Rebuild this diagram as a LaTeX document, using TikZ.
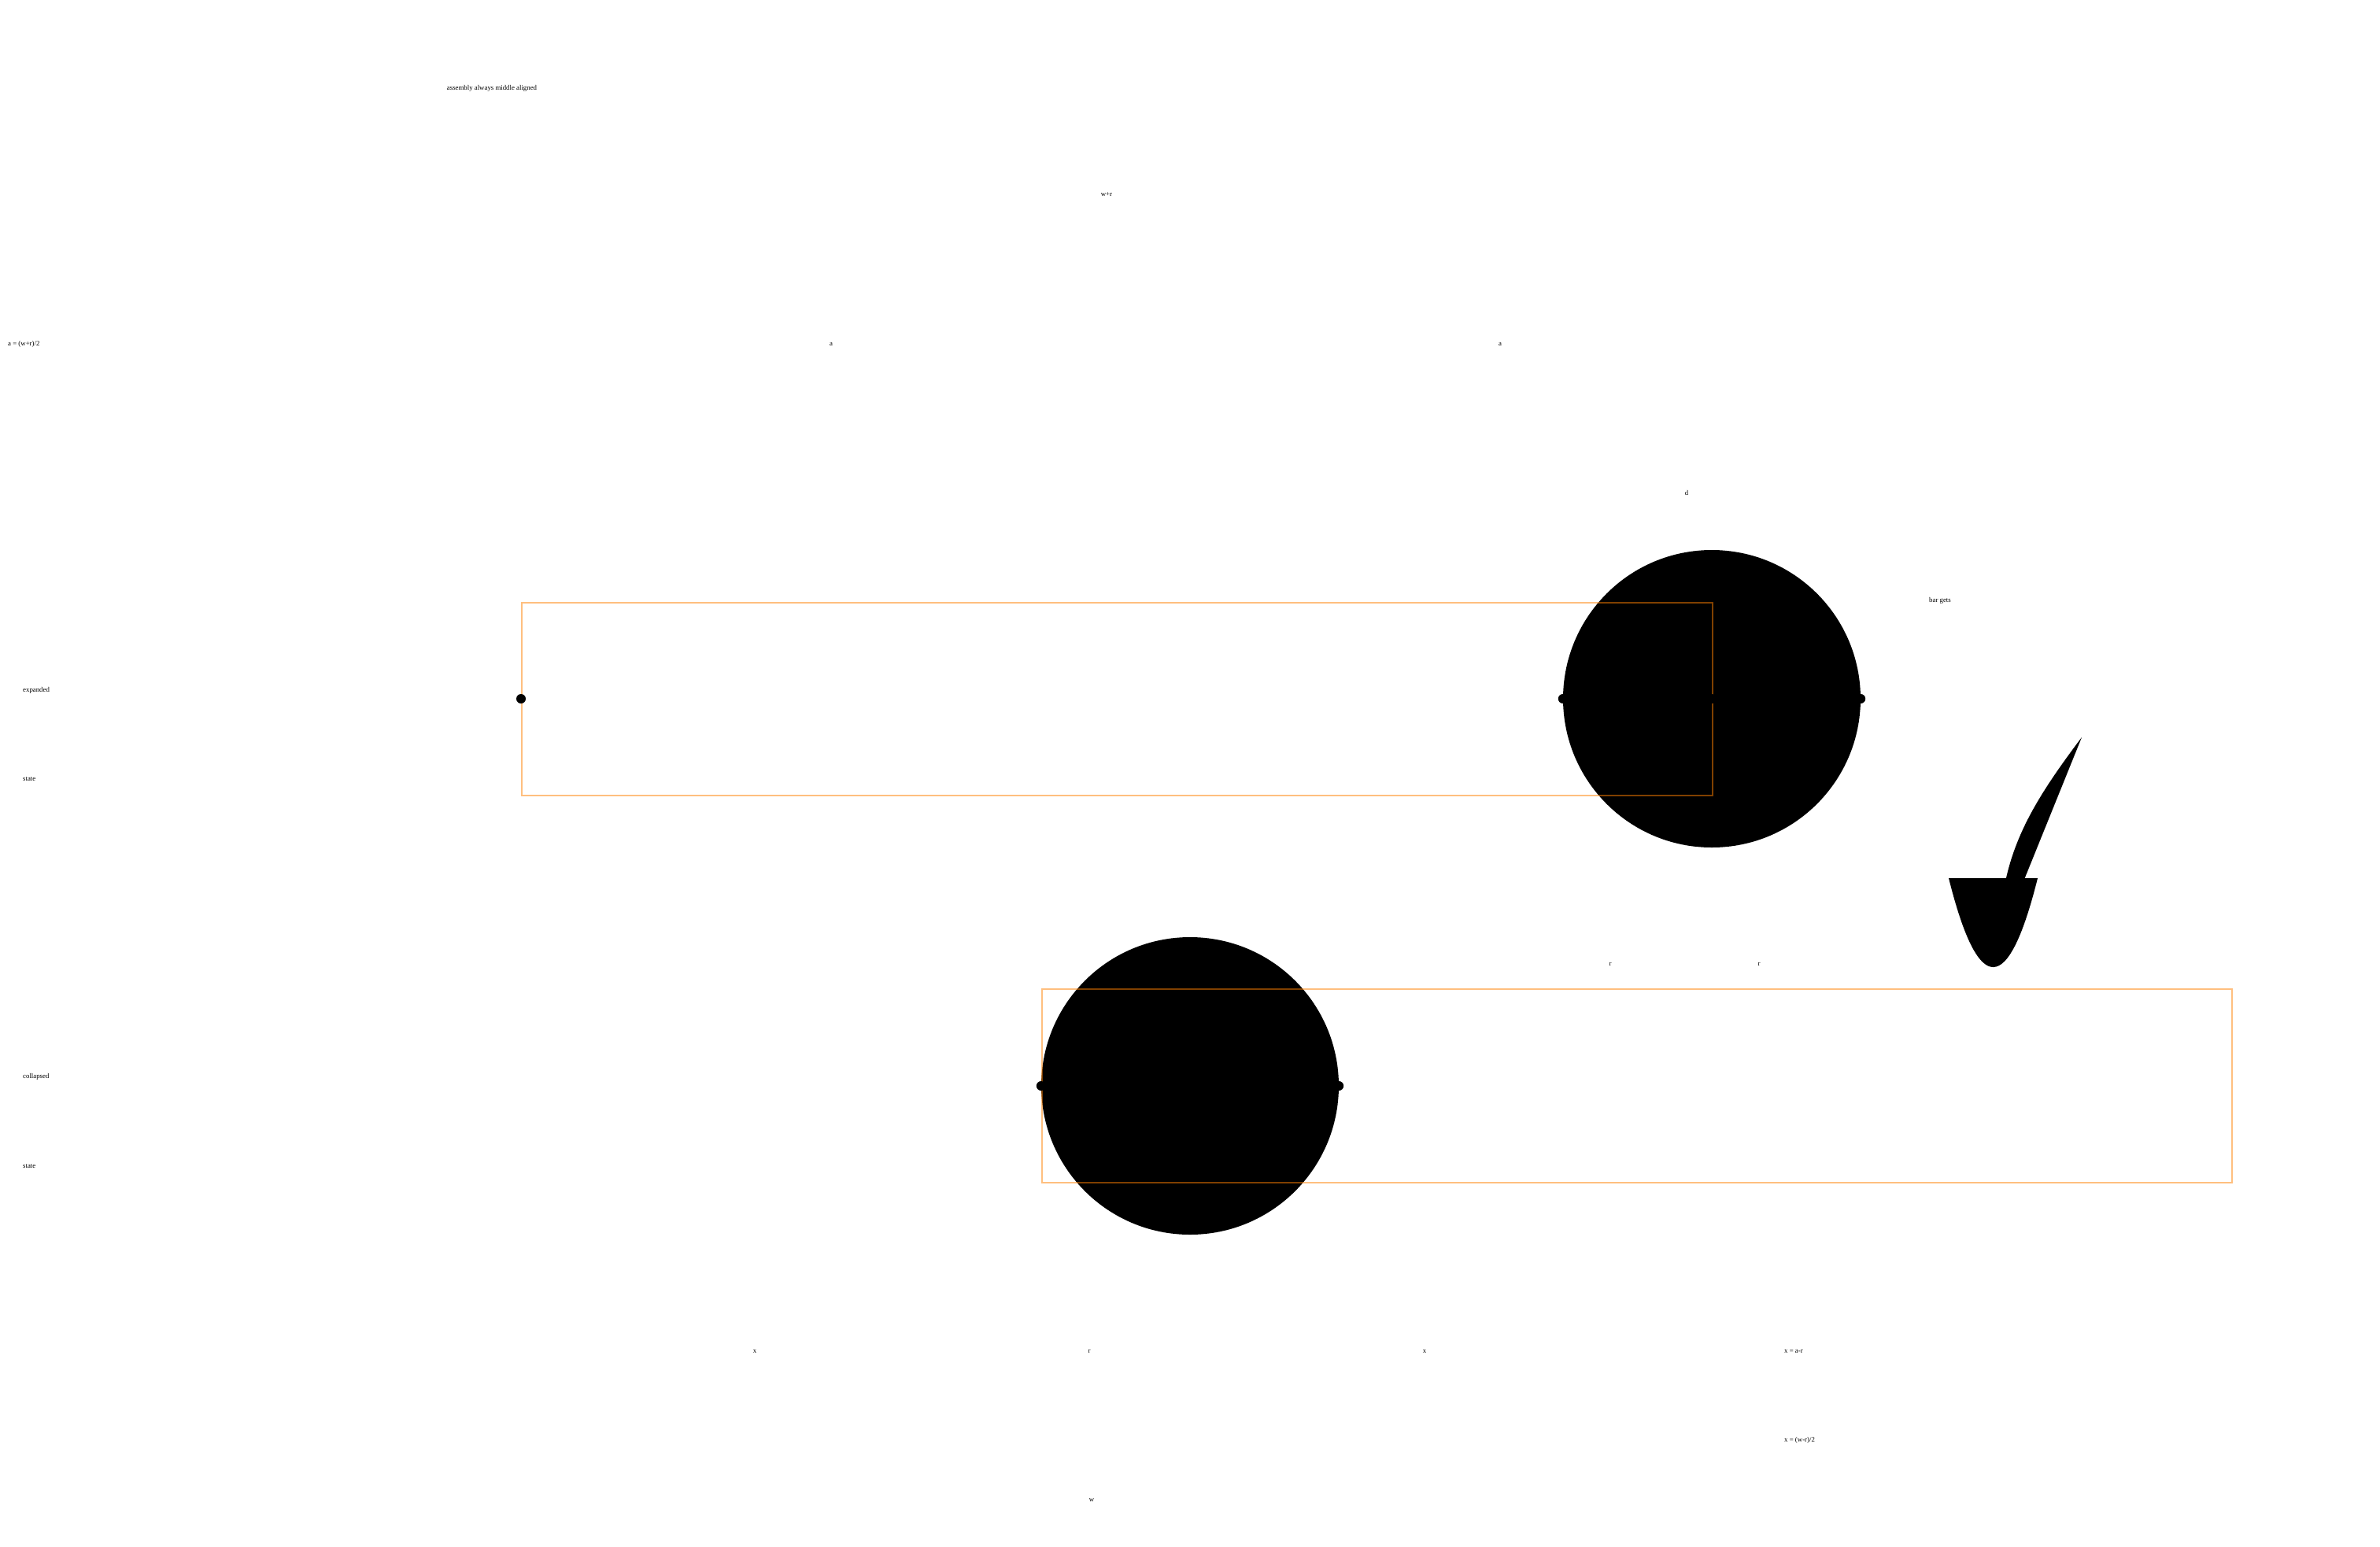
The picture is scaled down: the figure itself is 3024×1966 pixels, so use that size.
\documentclass[tikz,border=0pt]{standalone}
\usepackage{fontspec}
\setmainfont{Liberation Serif}
\begin{document}
\begin{tikzpicture}[x=1bp,y=-1bp,
  lbl/.style={font=\fontsize{8.8bp}{10bp}\selectfont, inner sep=0pt, text=black},
  lblw/.style={lbl, anchor=west},
  disc/.style={circle, fill=black, inner sep=0pt, minimum size=378bp},
  bar/.style={rectangle, draw=orange, draw opacity=0.5, line width=2bp, inner sep=0pt, anchor=west},
  pin/.style={circle, fill=black, inner sep=0pt, minimum size=12bp}]
\useasboundingbox (0,0) rectangle (3024,1966);

% texts
\node[lbl] (t1) at (625,112) {assembly always middle aligned};
\node[lbl] (t2) at (1406,247) {w+r};
\node[lblw] (t3) at (10,437) {a = (w+r)/2};
\node[lbl] (t4) at (1056,437) {a};
\node[lbl] (t5) at (1906,437) {a};
\node[lbl] (t6) at (2143,626) {d};
\node[lblw] (t7) at (2451,763) {bar gets};
\node[lblw] (t8) at (29,877) {expanded};
\node[lblw] (t9) at (29,990) {state};
\node[lblw] (t10) at (29,1368) {collapsed};
\node[lblw] (t11) at (29,1482) {state};
\node[lbl] (t12) at (2046,1225) {r};
\node[lbl] (t13) at (2235,1225) {r};
\node[lbl] (t14) at (959,1717) {x};
\node[lbl] (t15) at (1384,1717) {r};
\node[lbl] (t16) at (1810,1717) {x};
\node[lblw] (t17) at (2267,1717) {x = a-r};
\node[lblw] (t18) at (2267,1830) {x = (w-r)/2};
\node[lbl] (t19) at (1387,1906) {w};

% expanded state
\node[disc] (c1) at (2175,888) {};
\node[bar, minimum width=1513bp, minimum height=245bp] (r1) at (662,888) {};
\node[pin] (p1) at (r1.west) {};
\node[pin] (p2) at (c1.west) {};
\node[pin] (p3) at (c1.center) {};
\node[pin] (p4) at (c1.east) {};

% collapsed state
\node[disc] (c2) at (1512,1380) {};
\node[bar, minimum width=1512bp, minimum height=246bp] (r2) at (1323,1380) {};
\node[pin] (p5) at (c2.west) {};
\node[pin] (p6) at (c2.east) {};

% check mark
\fill[black] (2547,1125) .. controls (2560,1060) and (2590,1010) .. (2645,937) -- (2569,1125) -- cycle;
\fill[black] (2476,1116) .. controls (2513.7,1266.7) and (2551.3,1266.7) .. (2589,1116) -- cycle;
\end{tikzpicture}
\end{document}
